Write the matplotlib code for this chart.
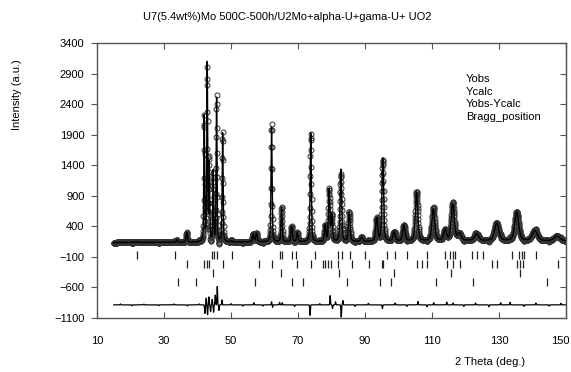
import numpy as np
import matplotlib
matplotlib.use("Agg")
import matplotlib.pyplot as plt
from matplotlib.transforms import ScaledTranslation

plt.rcParams['font.family'] = ['Liberation Sans', 'DejaVu Sans']

# peaks: position (deg), height above background, fwhm (deg)
peak_pos = [21.9, 33.8, 36.8, 42.0, 42.9, 43.5, 44.7, 45.7, 47.5, 50.2, 56.6, 57.6,
            62.1, 65.1, 68.1, 69.8, 73.8, 78.1, 79.3, 80.1, 82.8, 85.3, 89.0,
            93.5, 95.3, 98.7, 101.6, 105.4, 110.4, 113.9, 116.2, 118.2, 123.3,
            129.3, 135.3, 140.7, 147.3]
peak_h = [15, 40, 160, 2050, 2900, 1250, 1150, 2350, 1780, 20, 120, 140,
          1880, 560, 250, 150, 1780, 260, 850, 420, 1180, 480, 70,
          380, 1360, 150, 260, 800, 520, 170, 600, 110, 110,
          290, 470, 170, 80]
peak_w = [0.4, 0.4, 0.45, 0.3, 0.3, 0.3, 0.3, 0.3, 0.32, 0.4, 0.5, 0.5,
          0.38, 0.42, 0.5, 0.5, 0.42, 0.5, 0.5, 0.5, 0.55, 0.6, 0.7,
          0.7, 0.6, 0.8, 0.85, 0.85, 1.0, 1.0, 1.1, 1.2, 1.5,
          1.5, 1.4, 1.8, 2.0]

# background level read at a few angles
bg_x = [15, 40, 60, 90, 120, 150]
bg_y = [135, 140, 145, 150, 165, 160]

# difference curve features: position, amplitude
diff_pos = [17.0, 20.5, 24.0, 28.5, 33.0, 37.0, 40.5,
            42.2, 42.6, 43.0, 43.4, 43.9, 44.4, 44.8, 45.3, 45.9, 46.4, 47.3,
            50.0, 53.5, 56.8, 59.5, 62.1, 62.4, 64.5, 65.3, 69.0, 73.6, 76.5,
            79.6, 80.3, 81.2, 82.9, 83.4, 87.0, 91.0, 95.2, 99.0, 102.5, 105.8,
            108.5, 110.5, 114.4, 116.3, 119.5, 123.0, 127.0, 130.5, 133.3, 137.5,
            141.0, 145.0, 148.5]
diff_amp = [15, -15, 12, -12, 15, -18, 15,
            -140, 110, -160, 130, -110, 90, -120, 160, 300, -90, 80,
            20, -20, 35, -20, 50, -40, 40, 35, -25, -170, 20,
            150, -60, 50, -200, 70, -25, 25, -60, 30, -25, 55,
            -30, 35, 45, 30, -25, 30, -30, 35, 40, -25,
            30, -20, 25]

bragg_1 = [21.9, 33.3, 44.2, 44.9, 45.7, 50.2, 64.6, 65.1, 68.1, 69.4, 75.1,
           82.0, 83.0, 85.5, 90.0, 96.5, 99.0, 102.6, 108.4, 113.9, 115.4, 116.2,
           116.9, 121.8, 123.3, 125.1, 133.8, 136.1, 136.8, 137.5, 141.0]
bragg_2 = [36.8, 42.0, 42.7, 43.5, 47.7, 58.4, 62.1, 69.8, 73.9, 78.1, 79.0,
           77.6, 79.9, 82.0, 86.0, 91.3, 95.0, 95.4, 105.4, 106.9, 108.6, 114.4,
           116.2, 118.4, 127.8, 129.3, 135.3, 136.3, 137.3, 147.7]
bragg_3 = [44.7, 65.0, 82.3, 98.7, 115.8, 136.3]
bragg_4 = [34.1, 39.6, 57.2, 68.1, 71.4, 84.7, 94.5, 97.8, 111.2, 122.1, 144.4]

diff_offset = -885

x = np.arange(15, 150.01, 0.05)
ycalc = np.interp(x, bg_x, bg_y)
for p, h, w in zip(peak_pos, peak_h, peak_w):
    g = np.exp(-4 * np.log(2) * ((x - p) / w) ** 2)
    l = 1 / (1 + 4 * ((x - p) / w) ** 2)
    ycalc = ycalc + h * (0.6 * g + 0.4 * l)

diff = np.zeros_like(x)
for p, a in zip(diff_pos, diff_amp):
    diff = diff + a * np.exp(-((x - p) / 0.13) ** 2)
yobs = ycalc + diff

fig = plt.figure(figsize=(5.71, 3.72), dpi=100)
ax = fig.add_axes([97 / 571, 1 - 318 / 372, (566 - 97) / 571, (318 - 43) / 372])

ax.plot(x, yobs, 'o', ms=3.6, mfc='none', mec='#333333', mew=0.7)
ax.plot(x, ycalc, color='black', lw=1)
ax.plot(x, diff + diff_offset, color='black', lw=0.9)

rows = [(bragg_1, -75), (bragg_2, -220), (bragg_3, -365), (bragg_4, -515)]
for pos, yc in rows:
    ax.vlines(pos, yc - 65, yc + 65, color='#222222', lw=0.9)

ax.set_xlim(10, 150)
ax.set_ylim(-1100, 3400)
ax.set_xticks(range(10, 151, 20))
ax.set_yticks(range(-1100, 3401, 500))
ax.tick_params(axis='x', direction='in', top=True, length=4, pad=13, labelsize=8, color='#555555')
ax.tick_params(axis='y', direction='out', length=4, pad=5, labelsize=8, color='#555555')
sec = ax.secondary_yaxis('right')
sec.set_yticks(range(-1100, 3401, 500))
sec.tick_params(direction='in', length=4, labelright=False, color='#555555')
sec.spines['right'].set_color('#555555')
for s in ax.spines.values():
    s.set_color('#555555')
    s.set_linewidth(1)

# keep the last x label inside the figure
fig.canvas.draw()
last = ax.get_xticklabels()[-1]
last.set_transform(last.get_transform() + ScaledTranslation(-4 / 72, 0, fig.dpi_scale_trans))

fig.text(0.503, 1 - 17 / 372, 'U7(5.4wt%)Mo 500C-500h/U2Mo+alpha-U+gama-U+ UO2',
         ha='center', va='center', fontsize=8)
fig.text(17 / 571, 1 - 95 / 372, 'Intensity (a.u.)', rotation=90,
         ha='center', va='center', fontsize=8)
fig.text(490 / 571, 1 - 362 / 372, '2 Theta (deg.)', ha='center', va='center', fontsize=8)

labels = ['Yobs', 'Ycalc', 'Yobs-Ycalc', 'Bragg_position']
for i, t in enumerate(labels):
    fig.text(466 / 571, 1 - (79 + 12.7 * i) / 372, t, ha='left', va='center', fontsize=8)

fig.savefig('out.png', dpi=100)
